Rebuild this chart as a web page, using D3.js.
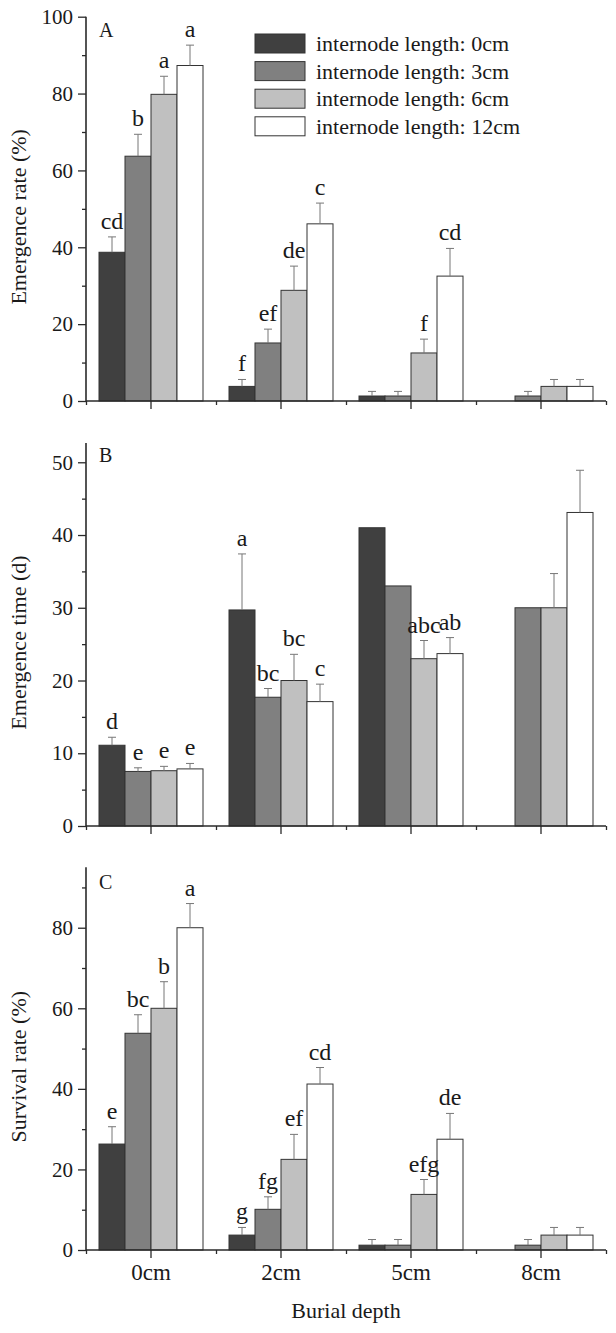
<!DOCTYPE html>
<html>
<head>
<meta charset="utf-8">
<script src="https://cdn.jsdelivr.net/npm/d3@7"></script>
<style>
  html, body { margin: 0; padding: 0; background: #fff; }
  svg { display: block; font-family: "Liberation Serif", "Times New Roman", serif; }
</style>
</head>
<body>
<svg id="chart" width="616" height="1333"></svg>
<script>
// ---------------- data ----------------
const depths = ["0cm", "2cm", "5cm", "8cm"];
const series = ["internode length: 0cm", "internode length: 3cm", "internode length: 6cm", "internode length: 12cm"];
const seriesFill = ["#404040", "#808080", "#c0c0c0", "#ffffff"];

// Panel A: Emergence rate (%)  [depth][internode]
const rateMean = [[38.7, 63.7, 79.8, 87.3], [3.8, 15.1, 28.8, 46.1], [1.3, 1.3, 12.5, 32.5], [0, 1.3, 3.8, 3.8]];
const rateErr  = [[4.0, 5.7, 4.7, 5.3], [1.8, 3.6, 6.3, 5.4], [1.2, 1.2, 3.6, 7.2], [0, 1.2, 1.8, 1.8]];
const rateSig  = [["cd", "b", "a", "a"], ["f", "ef", "de", "c"], ["", "", "f", "cd"], ["", "", "", ""]];

// Panel B: Emergence time (d)
const timeMean = [[11.1, 7.5, 7.6, 7.85], [29.7, 17.7, 20.0, 17.1], [41.0, 33.0, 23.0, 23.7], [0, 30.0, 30.0, 43.1]];
const timeErr  = [[1.1, 0.5, 0.6, 0.75], [7.7, 1.2, 3.6, 2.4], [0, 0, 2.5, 2.2], [0, 0, 4.7, 5.8]];
const timeSig  = [["d", "e", "e", "e"], ["a", "bc", "bc", "c"], ["", "", "abc", "ab"], ["", "", "", ""]];

// Panel C: Survival rate (%)
const survMean = [[26.3, 53.8, 60.0, 80.0], [3.7, 10.1, 22.5, 41.2], [1.2, 1.2, 13.8, 27.5], [0, 1.2, 3.7, 3.7]];
const survErr  = [[4.3, 4.6, 6.6, 6.0], [1.9, 3.1, 6.2, 4.1], [1.4, 1.4, 3.7, 6.4], [0, 1.4, 1.9, 1.9]];
const survSig  = [["e", "bc", "b", "a"], ["g", "fg", "ef", "cd"], ["", "", "efg", "de"], ["", "", "", ""]];

const yTicksA = [0, 20, 40, 60, 80, 100], yMinorA = [10, 30, 50, 70, 90];
const yTicksB = [0, 10, 20, 30, 40, 50], yMinorB = [5, 15, 25, 35, 45];
const yTicksC = [0, 20, 40, 60, 80],     yMinorC = [10, 30, 50, 70, 90];

// ---------------- layout ----------------
const svg = d3.select("#chart");
svg.append("rect").attr("width", 616).attr("height", 1333).attr("fill", "#fff");

const left = 86, right = 606;
const x0 = d3.scaleBand().domain(depths).range([left, right]).paddingInner(0.2).paddingOuter(0.1);
const x1 = d3.scaleBand().domain(d3.range(4)).range([0, x0.bandwidth()]);
const xMinor = d3.scaleLinear().domain([0, 4]).range([left, right]);

const axisColor = "#2a2a2a";

const panels = [
  { key: "A", mean: rateMean, err: rateErr, sig: rateSig, dom: [0, 100], range: [401, 16.7], ticks: yTicksA, minor: yMinorA,
    title: "Emergence rate (%)", labelY: 37, showX: false, legend: true },
  { key: "B", mean: timeMean, err: timeErr, sig: timeSig, dom: [0, 52.65], range: [826, 443], ticks: yTicksB, minor: yMinorB,
    title: "Emergence time (d)", labelY: 462, showX: false, legend: false },
  { key: "C", mean: survMean, err: survErr, sig: survSig, dom: [0, 95], range: [1250, 867.3], ticks: yTicksC, minor: yMinorC,
    title: "Survival rate (%)", labelY: 889, showX: true, legend: false }
];

panels.forEach(p => {
  const y = d3.scaleLinear().domain(p.dom).range(p.range);
  const g = svg.append("g");

  // bars
  const grp = g.selectAll("g.grp").data(depths).join("g")
    .attr("transform", d => `translate(${x0(d)},0)`);
  grp.each(function (d, di) {
    const gg = d3.select(this);
    const vals = p.mean[di].map((v, si) => ({ v, si, e: p.err[di][si], s: p.sig[di][si] }));
    const shown = vals.filter(o => o.v > 0);
    gg.selectAll("rect").data(shown).join("rect")
      .attr("x", o => x1(o.si))
      .attr("y", o => y(o.v))
      .attr("width", x1.bandwidth())
      .attr("height", o => y(0) - y(o.v))
      .attr("fill", o => seriesFill[o.si])
      .attr("stroke", "#333")
      .attr("stroke-width", 1);
    const withErr = shown.filter(o => o.e > 0);
    gg.selectAll("line.eb").data(withErr).join("line").attr("class", "eb")
      .attr("x1", o => x1(o.si) + x1.bandwidth() / 2)
      .attr("x2", o => x1(o.si) + x1.bandwidth() / 2)
      .attr("y1", o => y(o.v))
      .attr("y2", o => y(o.v + o.e))
      .attr("stroke", "#777").attr("stroke-width", 1);
    gg.selectAll("line.cap").data(withErr).join("line").attr("class", "cap")
      .attr("x1", o => x1(o.si) + x1.bandwidth() / 2 - 4)
      .attr("x2", o => x1(o.si) + x1.bandwidth() / 2 + 4)
      .attr("y1", o => y(o.v + o.e))
      .attr("y2", o => y(o.v + o.e))
      .attr("stroke", "#777").attr("stroke-width", 1);
    gg.selectAll("text.sig").data(shown.filter(o => o.s)).join("text").attr("class", "sig")
      .attr("x", o => x1(o.si) + x1.bandwidth() / 2)
      .attr("y", o => y(o.v + o.e) - 8)
      .attr("text-anchor", "middle")
      .attr("font-size", 24)
      .attr("fill", "#1a1a1a")
      .text(o => o.s);
  });

  // y axis
  const ya = g.append("g").attr("transform", `translate(${left},0)`)
    .call(d3.axisLeft(y).tickValues(p.ticks).tickSize(8).tickPadding(5).tickSizeOuter(0).tickFormat(d3.format("d")));
  ya.select(".domain").remove();
  ya.selectAll("line").attr("stroke", axisColor).attr("stroke-width", 1.3);
  ya.selectAll("text").attr("font-size", 21).attr("fill", "#1a1a1a").attr("font-family", "Liberation Serif, serif");
  const ym = g.append("g").attr("transform", `translate(${left},0)`)
    .call(d3.axisLeft(y).tickValues(p.minor).tickSize(4).tickFormat(""));
  ym.select(".domain").remove();
  ym.selectAll("line").attr("stroke", axisColor).attr("stroke-width", 1.3);
  g.append("line").attr("x1", left).attr("x2", left).attr("y1", y(0)).attr("y2", y(p.dom[1]))
    .attr("stroke", axisColor).attr("stroke-width", 1.6);

  // x axis
  const xa = g.append("g").attr("transform", `translate(0,${y(0)})`)
    .call(d3.axisBottom(x0).tickSize(8).tickPadding(6).tickSizeOuter(0));
  xa.select(".domain").remove();
  xa.selectAll("line").attr("stroke", axisColor).attr("stroke-width", 1.3);
  if (p.showX) {
    xa.selectAll("text").attr("font-size", 23).attr("fill", "#1a1a1a").attr("font-family", "Liberation Serif, serif");
  } else {
    xa.selectAll("text").remove();
  }
  const xm = g.append("g").attr("transform", `translate(0,${y(0)})`)
    .call(d3.axisBottom(xMinor).tickValues([0, 1, 2, 3, 4]).tickSize(4).tickFormat(""));
  xm.select(".domain").remove();
  xm.selectAll("line").attr("stroke", axisColor).attr("stroke-width", 1.3);
  g.append("line").attr("x1", left).attr("x2", right).attr("y1", y(0)).attr("y2", y(0))
    .attr("stroke", axisColor).attr("stroke-width", 1.6);

  // panel letter
  g.append("text").attr("x", left + 13).attr("y", p.labelY).attr("font-size", 20).attr("fill", "#1a1a1a").text(p.key);

  // y title
  const cy = (p.range[0] + p.range[1]) / 2 + 8;
  g.append("text").attr("transform", `translate(26,${cy}) rotate(-90)`)
    .attr("text-anchor", "middle").attr("font-size", 22).attr("fill", "#1a1a1a").text(p.title);

  // legend
  if (p.legend) {
    const lg = g.append("g").attr("transform", "translate(255,34)");
    const row = lg.selectAll("g").data(series).join("g").attr("transform", (d, i) => `translate(0,${i * 27.6})`);
    row.append("rect").attr("width", 50).attr("height", 19)
      .attr("fill", (d, i) => seriesFill[i]).attr("stroke", "#333").attr("stroke-width", 1);
    row.append("text").attr("x", 61).attr("y", 17).attr("font-size", 22).attr("fill", "#1a1a1a").text(d => d);
  }
});

// x title
svg.append("text").attr("x", (left + right) / 2).attr("y", 1318).attr("text-anchor", "middle")
  .attr("font-size", 22).attr("fill", "#1a1a1a").text("Burial depth");
</script>
</body>
</html>
